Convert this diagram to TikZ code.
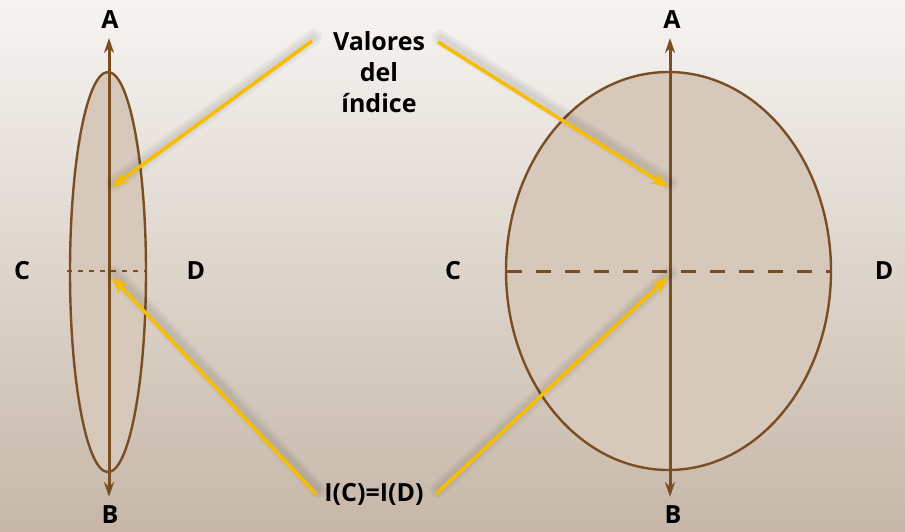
\documentclass[tikz,border=0pt]{standalone}
\usepackage{fontspec}
\setmainfont{Open Sans}
\usetikzlibrary{arrows.meta}
\definecolor{bgtop}{HTML}{F6F4F2}
\definecolor{bgbot}{HTML}{C6B7A8}
\definecolor{ellfill}{HTML}{D6C9BB}
\definecolor{brownline}{HTML}{7A4E22}
\definecolor{gold}{HTML}{F7BD00}
\tikzset{
  lbl/.style={font=\bfseries\fontsize{25}{31}\selectfont, text=black, inner sep=0pt, align=center},
  ellstyle/.style={draw=brownline, fill=ellfill, line width=2.4pt},
  axis/.style={draw=brownline, line width=3pt, -{Stealth[length=15pt,width=10pt]}},
  cdline/.style={draw=brownline, dashed},
  pointer/.style={draw=gold, line width=3.5pt, -{Stealth[length=17pt,width=13pt]}},
  shadowline/.style={draw=black, opacity=0.035, line cap=round}
}
\begin{document}
\begin{tikzpicture}[x=1pt,y=-1pt]
\useasboundingbox (0,0) rectangle (905,531);
\shade[top color=bgtop, bottom color=bgbot] (0,0) rectangle (905,531);

% ellipses
\draw[ellstyle] (108,272) ellipse [x radius=38, y radius=200];
\draw[ellstyle] (668.5,271) ellipse [x radius=162.5, y radius=199];

% dashed C-D lines
\coordinate (l1) at (67,271);
\coordinate (l2) at (147,271);
\coordinate (r1) at (507,271);
\coordinate (r2) at (831,271);
\draw[cdline, line width=1.4pt, dash pattern=on 5pt off 6pt] (l1) -- (l2);
\draw[cdline, line width=3pt, dash pattern=on 15pt off 14pt] (r1) -- (r2);

% axes
\coordinate (la0) at (109,497);
\coordinate (la1) at (109,38);
\coordinate (ra0) at (670,497);
\coordinate (ra1) at (670,38);
\draw[axis] (109,271) -- (la1);
\draw[axis] (109,271) -- (la0);
\draw[axis] (670,271) -- (ra1);
\draw[axis] (670,271) -- (ra0);

% labels
\node[lbl] (A1) at (110,20) {A};
\node[lbl] (B1) at (110,515) {B};
\node[lbl] (C1) at (22,271) {C};
\node[lbl] (D1) at (196,271) {D};
\node[lbl] (A2) at (672,20) {A};
\node[lbl] (B2) at (673,515) {B};
\node[lbl] (C2) at (453,271) {C};
\node[lbl] (D2) at (884,271) {D};
\node[lbl] (val) at (379,72) {Valores\\del\\índice};
\node[lbl] (icd) at (374,494) {I(C)=I(D)};

% targets
\coordinate (tl1) at (112,187);
\coordinate (tr1) at (668,187);
\coordinate (tl2) at (112,277);
\coordinate (tr2) at (668,277);
\coordinate (sv1) at (312,41);
\coordinate (sv2) at (438,42);
\coordinate (si1) at (316,494);
\coordinate (si2) at (436,494);

% soft shadows
\foreach \a/\b in {sv1/tl1, sv2/tr1, si1/tl2, si2/tr2}{
  \draw[shadowline, line width=16pt] ([xshift=2pt,yshift=4pt]\a) -- ([xshift=2pt,yshift=4pt]\b);
  \draw[shadowline, line width=11pt] ([xshift=2pt,yshift=4pt]\a) -- ([xshift=2pt,yshift=4pt]\b);
  \draw[shadowline, line width=6pt] ([xshift=2pt,yshift=4pt]\a) -- ([xshift=2pt,yshift=4pt]\b);
}

% pointers
\draw[pointer] (sv1) -- (tl1);
\draw[pointer] (sv2) -- (tr1);
\draw[pointer] (si1) -- (tl2);
\draw[pointer] (si2) -- (tr2);
\end{tikzpicture}
\end{document}
